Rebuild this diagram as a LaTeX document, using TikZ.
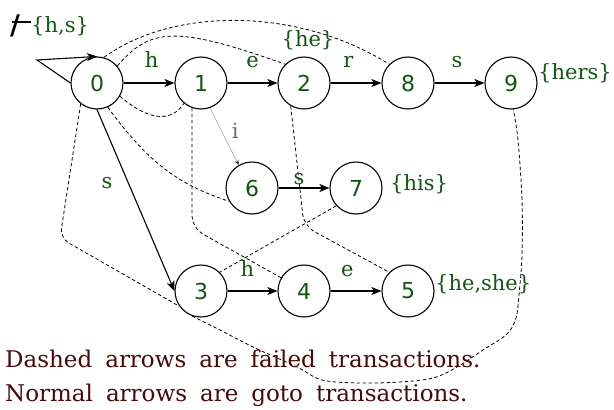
\documentclass[tikz,border=0pt]{standalone}
\usepackage{fontspec}
\setmainfont{DejaVu Serif}
\setsansfont{DejaVu Sans}
\usetikzlibrary{arrows.meta}
\pgfdeclarelayer{bg}
\pgfsetlayers{bg,main}
\definecolor{lblgreen}{RGB}{20,85,20}
\definecolor{notered}{RGB}{70,10,10}
\definecolor{igray}{RGB}{105,115,95}
\newcommand{\widespaced}[1]{\spaceskip=13pt\relax #1}
\begin{document}
\begin{tikzpicture}[x=1pt,y=-1pt,
  state/.style={circle, draw, line width=1.1pt, minimum size=52pt, inner sep=0pt,
    fill=white, font=\sffamily\fontsize{22}{22}\selectfont, text=lblgreen},
  goto/.style={line width=1.1pt, -{Stealth[length=10pt,width=8pt,inset=2.5pt]}},
  fail/.style={line width=0.8pt, dash pattern=on 3.5pt off 2.5pt},
  lbl/.style={font=\fontsize{21}{21}\selectfont, text=lblgreen, inner sep=0pt},
  note/.style={font=\fontsize{23}{23}\selectfont, text=notered,
    inner sep=0pt, anchor=base west},
]
\begin{pgfonlayer}{bg}
  \path[use as bounding box, fill=white] (0,0) rectangle (614,410);
\end{pgfonlayer}

% states
\node[state] (n0) at (97,83)  {0};
\node[state] (n1) at (201,83) {1};
\node[state] (n2) at (304,83) {2};
\node[state] (n8) at (408,83) {8};
\node[state] (n9) at (511,83) {9};
\node[state] (n6) at (252,188) {6};
\node[state] (n7) at (356,188) {7};
\node[state] (n3) at (201,291) {3};
\node[state] (n4) at (304,291) {4};
\node[state] (n5) at (408,291) {5};

% output sets
\node[lbl] (acc2) at (308,40) {\{he\}};
\node[lbl, anchor=west] (acc9) at (538,73) {\{hers\}};
\node[lbl, anchor=west] (acc7) at (390,184) {\{his\}};
\node[lbl, anchor=west] (acc5) at (435,284) {\{he,she\}};
% "not" mark before the start set
\node[font=\fontsize{27}{27}\sffamily\bfseries\selectfont, inner sep=0pt] (negmark) at (15,26) {/};
\draw[line width=1.8pt] (12,22) -- (31,22);
\node[lbl, anchor=west] (acc0) at (31,26) {\{h,s\}};

% goto transitions
\coordinate (loopc) at (37,60);
\draw[goto] (n0.west) -- (loopc) -- (n0.north);
\draw[goto] (n0) -- node[lbl, pos=.55, above=15pt] (lh1) {h} (n1);
\draw[goto] (n1) -- node[lbl, pos=.5, above=15pt] (le2) {e} (n2);
\draw[goto] (n2) -- node[lbl, pos=.35, above=15pt] (lr8) {r} (n8);
\draw[goto] (n8) -- node[lbl, pos=.45, above=15pt] (ls9) {s} (n9);
\draw[goto] (n6) -- node[lbl, pos=.4, above=3pt] (ls7) {s} (n7);
\draw[goto] (n3) -- node[lbl, pos=.4, above=14pt] (lh4) {h} (n4);
\draw[goto] (n4) -- node[lbl, pos=.33, above=14pt] (le5) {e} (n5);
\draw[goto] (n0.south) -- (n3.west);
\node[lbl] (ls3) at (107,183) {s};
\draw[line width=0.6pt, color=gray!65, -{Stealth[length=5pt,width=4pt,color=black!85]}]
  (n1.-70) -- node[lbl, pos=.4, right=10pt, text=igray] (li6) {i} (n6.120);

% failure transitions
\coordinate (c4a) at (192,228);
\coordinate (c5a) at (304,226);
\coordinate (c3a) at (60,238);
\begin{pgfonlayer}{bg}
  \draw[fail] (n0.75) .. controls (175,6) and (300,8) .. (n8.135);
  \draw[fail] (n0.40) .. controls (150,28) and (175,25) .. (n2.135);
  \draw[fail] (n0.-30) .. controls (145,118) and (170,125) .. (n1.230);
  \draw[fail] (n0.-66) .. controls (150,165) and (180,185) .. (n6.210);
  \draw[fail, rounded corners=12pt] (n1.-110) -- (c4a) -- (n4.150);
  \draw[fail, rounded corners=12pt] (n2.-120) -- (c5a) -- (n5.135);
  \draw[fail] (n7.222) -- (n3.45);
  \draw[fail, rounded corners=10pt] (n0.-128) -- (c3a) -- (n3.215);
  \draw[fail] plot[smooth, tension=0.55] coordinates {(n3.250) (220,330) (253,347)
    (297,367) (322,380) (360,383) (400,382) (433,378) (457,367) (483,350) (507,334)
    (516,318) (519,295) (522,255) (522,200) (518,140) (n9.-85)};
\end{pgfonlayer}

% legend
\node[note] (note1) at (5,367) {\widespaced{Dashed arrows are failed transactions.}};
\node[note] (note2) at (5,401) {\widespaced{Normal arrows are goto transactions.}};
\end{tikzpicture}
\end{document}
